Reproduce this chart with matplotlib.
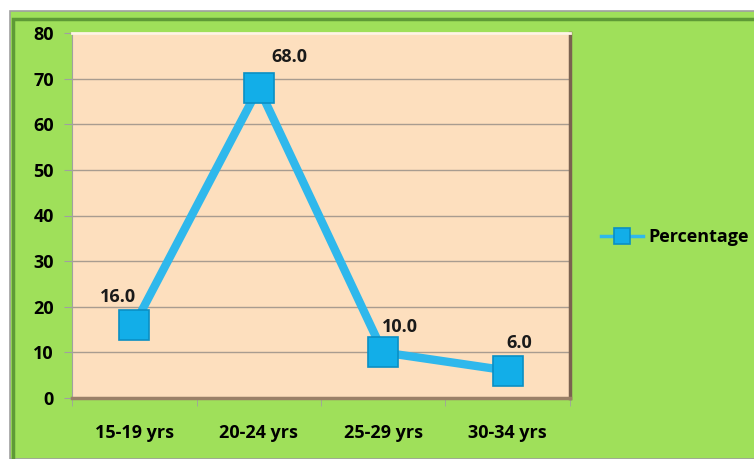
import matplotlib.pyplot as plt
from matplotlib.patches import Rectangle
import numpy as np

categories = ['15-19 yrs', '20-24 yrs', '25-29 yrs', '30-34 yrs']
percentage = [16.0, 68.0, 10.0, 6.0]
label_offsets = [(-12, 20), (22, 22), (12, 18), (8, 20)]  # points

plt.rcParams['font.family'] = ['Open Sans', 'DejaVu Sans']
plt.rcParams['font.weight'] = 'bold'

fig = plt.figure(figsize=(7.54, 4.59), dpi=100)
fig.patch.set_facecolor('white')

# green chart frame
fig.patches.append(Rectangle((10/754, 0), 1, 1 - 11/459, transform=fig.transFigure,
                             facecolor='#9FE05A', edgecolor='#A0A0A0', linewidth=1.2, zorder=-2))
fig.patches.append(Rectangle((13/754, -0.01), 1, 1 - 14/459, transform=fig.transFigure,
                             facecolor='none', edgecolor='#5E9A36', linewidth=2.5, zorder=-1))

ax = fig.add_axes([72/754, 1 - 398/459, (570 - 72)/754, (398 - 33)/459])
ax.set_facecolor('#FDDFBE')

x = np.arange(len(categories))
ax.plot(x, percentage, color='#2FB8EC', linewidth=6, marker='s', markersize=21,
        markerfacecolor='#12AEE8', markeredgecolor='#0A8FC4', markeredgewidth=1.2,
        label='Percentage', zorder=3)

for xi, v, off in zip(x, percentage, label_offsets):
    ax.annotate(f'{v:.1f}', xy=(xi, v), xytext=off, textcoords='offset points',
                ha='center', va='center', fontsize=13, fontweight='bold', color='#1A1A1A')

ax.set_xlim(-0.5, len(categories) - 0.5)
ax.set_ylim(0, 80)
ax.set_yticks(range(0, 81, 10))
ax.yaxis.grid(True, color='#A89C90', linewidth=1)
ax.set_axisbelow(True)

ax.set_xticks(x)
ax.set_xticklabels(categories, fontsize=13, fontweight='bold')
ax.set_xticks(np.arange(-0.5, len(categories), 1), minor=True)
ax.tick_params(axis='x', which='major', length=0, pad=19)
ax.tick_params(axis='x', which='minor', length=6, color='#A0A0A0', direction='out')
ax.tick_params(axis='y', length=6, color='#A0A0A0', labelsize=13, pad=7)
for lbl in ax.get_yticklabels():
    lbl.set_fontweight('bold')

ax.spines['top'].set_color('#FFF4E6')
ax.spines['left'].set_color('#A0A0A0')
ax.spines['right'].set_color('#7A6250')
ax.spines['bottom'].set_color('#9A8068')
ax.spines['right'].set_linewidth(2.5)
ax.spines['bottom'].set_linewidth(2.5)
ax.spines['top'].set_linewidth(2)

leg = ax.legend(loc='center left', bbox_to_anchor=(1.03, 0.44), frameon=False,
                fontsize=13, handlelength=2.3, markerscale=0.55, handletextpad=0.3)
for t in leg.get_texts():
    t.set_fontweight('bold')
for h in leg.legend_handles:
    h.set_linewidth(2.5)

fig.savefig('out.png', dpi=100, facecolor=fig.get_facecolor())
